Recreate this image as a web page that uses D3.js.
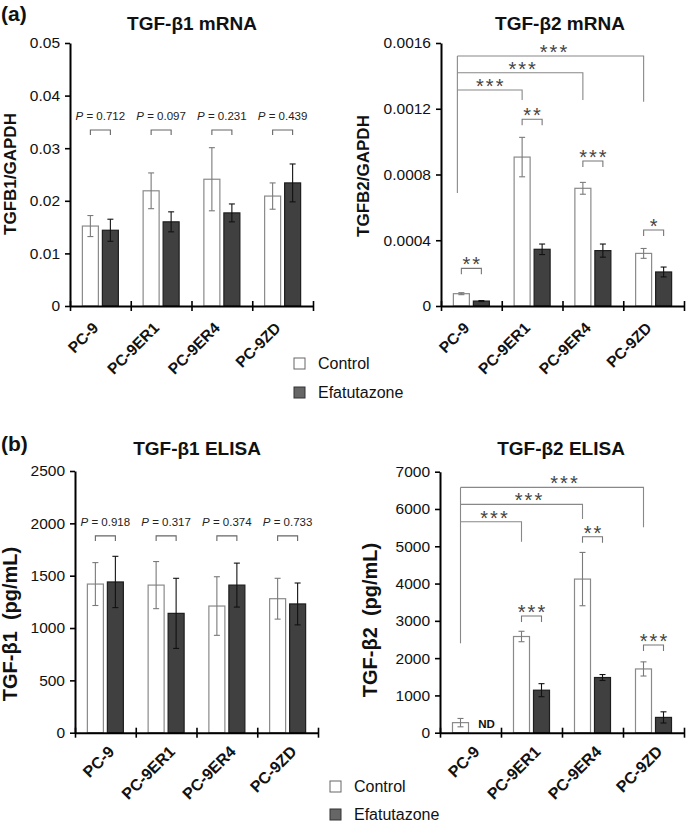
<!DOCTYPE html>
<html><head><meta charset="utf-8">
<script src="https://cdn.jsdelivr.net/npm/d3@7"></script>
<style>body{margin:0;background:#fff}svg{display:block;font-family:"Liberation Sans",Arial,sans-serif}</style>
</head><body><svg id="c" width="686" height="822"></svg>
<script>
const categories = ["PC-9", "PC-9ER1", "PC-9ER4", "PC-9ZD"];
const series = ["Control", "Efatutazone"];

// TGF-β1 mRNA (TGFB1/GAPDH)
const b1mrnaControl = [0.0152, 0.0219, 0.0241, 0.0209];
const b1mrnaControlErr = [0.0020, 0.0034, 0.0060, 0.0025];
const b1mrnaEfat = [0.0144, 0.0160, 0.0177, 0.0234];
const b1mrnaEfatErr = [0.0021, 0.0019, 0.0017, 0.0036];
const b1mrnaP = ["0.712", "0.097", "0.231", "0.439"];
const b1mrnaTicks = [0, 0.01, 0.02, 0.03, 0.04, 0.05];

// TGF-β2 mRNA (TGFB2/GAPDH)
const b2mrnaControl = [0.000075, 0.000906, 0.000716, 0.000320];
const b2mrnaControlErr = [0.000006, 0.000120, 0.000036, 0.000030];
const b2mrnaEfat = [0.000030, 0.000345, 0.000337, 0.000207];
const b2mrnaEfatErr = [0.000003, 0.000032, 0.000040, 0.000030];
const b2mrnaPairSig = ["**", "**", "***", "*"];
const b2mrnaVsPC9Sig = ["***", "***", "***"];
const b2mrnaTicks = [0, 0.0004, 0.0008, 0.0012, 0.0016];

// TGF-β1 ELISA (pg/mL)
const b1elisaControl = [1420, 1410, 1210, 1280];
const b1elisaControlErr = [205, 225, 280, 195];
const b1elisaEfat = [1440, 1140, 1410, 1230];
const b1elisaEfatErr = [245, 335, 210, 200];
const b1elisaP = ["0.918", "0.317", "0.374", "0.733"];
const b1elisaTicks = [0, 500, 1000, 1500, 2000, 2500];

// TGF-β2 ELISA (pg/mL); PC-9 Efatutazone not detected
const b2elisaControl = [270, 2580, 4120, 1710];
const b2elisaControlErr = [112, 140, 715, 190];
const b2elisaEfat = [null, 1140, 1480, 410];
const b2elisaEfatErr = [null, 175, 80, 150];
const b2elisaPairSig = [null, "***", "**", "***"];
const b2elisaVsPC9Sig = ["***", "***", "***"];
const b2elisaTicks = [0, 1000, 2000, 3000, 4000, 5000, 6000, 7000];

const svg = d3.select("#c");
const FONT = '"Liberation Sans", Arial, sans-serif';

function panel(cfg) {
  const g = svg.append("g");
  const x = d3.scaleBand().domain(categories).range([cfg.x0, cfg.x1]);
  const xs = d3.scaleBand().domain(series).range([-20, 20]).paddingInner(0.2).paddingOuter(0.1);
  const y = d3.scaleLinear().domain([0, cfg.ymax]).range([cfg.y0, cfg.yTop]);
  const cx = c => x(c) + x.bandwidth() / 2;
  const bx = (c, s) => cx(c) + xs(s) + xs.bandwidth() / 2;

  const rows = [];
  categories.forEach((c, i) => {
    rows.push({ c, s: series[0], v: cfg.ctrl[i], e: cfg.ctrlErr[i] });
    rows.push({ c, s: series[1], v: cfg.efat[i], e: cfg.efatErr[i] });
  });
  const valid = rows.filter(d => d.v != null);

  g.selectAll("rect.bar").data(valid).join("rect")
    .attr("x", d => cx(d.c) + xs(d.s))
    .attr("width", xs.bandwidth())
    .attr("y", d => y(d.v))
    .attr("height", d => y(0) - y(d.v))
    .attr("fill", d => d.s === series[0] ? "#ffffff" : "#404040")
    .attr("stroke", d => d.s === series[0] ? "#8a8a8a" : "#1e1e1e")
    .attr("stroke-width", 1.2);

  // error bars
  const eg = g.selectAll("g.err").data(valid).join("g")
    .attr("stroke", d => d.s === series[0] ? "#7a7a7a" : "#111")
    .attr("stroke-width", 1.1);
  eg.append("line")
    .attr("x1", d => bx(d.c, d.s)).attr("x2", d => bx(d.c, d.s))
    .attr("y1", d => y(d.v - d.e)).attr("y2", d => y(d.v + d.e));
  eg.append("line")
    .attr("x1", d => bx(d.c, d.s) - 3).attr("x2", d => bx(d.c, d.s) + 3)
    .attr("y1", d => y(d.v + d.e)).attr("y2", d => y(d.v + d.e));
  eg.append("line")
    .attr("x1", d => bx(d.c, d.s) - 3).attr("x2", d => bx(d.c, d.s) + 3)
    .attr("y1", d => y(d.v - d.e)).attr("y2", d => y(d.v - d.e));

  // y axis
  const ya = g.append("g").attr("transform", `translate(${cfg.x0},0)`)
    .call(d3.axisLeft(y).tickValues(cfg.ticks).tickFormat(cfg.fmt).tickSize(5).tickSizeOuter(0).tickPadding(5));
  ya.select(".domain").attr("stroke", "#000").attr("stroke-width", 2);
  ya.selectAll(".tick line").attr("stroke", "#000").attr("stroke-width", 1.6);
  ya.selectAll(".tick text").attr("font-size", 15.5).attr("font-family", FONT).attr("fill", "#111");

  // x axis with boundary ticks
  const xl = d3.scaleLinear().domain([0, categories.length]).range([cfg.x0, cfg.x1]);
  const xa = g.append("g").attr("transform", `translate(0,${cfg.y0})`)
    .call(d3.axisBottom(xl).tickValues(d3.range(categories.length + 1)).tickFormat("").tickSize(5).tickSizeOuter(0));
  xa.select(".domain").attr("stroke", "#000").attr("stroke-width", 2);
  xa.selectAll(".tick line").attr("y1", -5).attr("stroke", "#000").attr("stroke-width", 1.6);

  // category labels
  g.selectAll("text.cat").data(categories).join("text")
    .attr("transform", c => `translate(${cx(c) + cfg.lblDx},${cfg.y0 + cfg.lblDy}) rotate(-45)`)
    .attr("text-anchor", "end")
    .attr("font-weight", "bold").attr("font-size", cfg.lblSize).attr("fill", "#111")
    .text(c => c);

  // title
  g.append("text").attr("x", cfg.titleX).attr("y", cfg.titleY).attr("text-anchor", "middle")
    .attr("font-weight", "bold").attr("font-size", 19).attr("fill", "#111").text(cfg.title);

  // y label
  g.append("text").attr("transform", `translate(${cfg.ylX},${cfg.ylY}) rotate(-90)`)
    .attr("text-anchor", "middle").attr("font-weight", "bold").attr("font-size", cfg.ylSize || 18)
    .attr("fill", "#111").attr("xml:space", "preserve").style("white-space", "pre").text(cfg.ylabel);

  // P-value brackets
  if (cfg.pvals) {
    categories.forEach((c, i) => {
      const xa1 = bx(c, series[0]), xa2 = bx(c, series[1]), yy = y(cfg.pBracketY);
      g.append("path").attr("d", `M${xa1},${yy + 5}V${yy}H${xa2}V${yy + 5}`)
        .attr("fill", "none").attr("stroke", "#666").attr("stroke-width", 1.1);
      const t = g.append("text").attr("x", cx(c)).attr("y", yy - 10).attr("text-anchor", "middle")
        .attr("font-size", 11.5).attr("fill", "#222");
      t.append("tspan").attr("font-style", "italic").text("P");
      t.append("tspan").text(" = " + cfg.pvals[i]);
    });
  }

  const stars = (xc, yline, s) => g.append("text").attr("x", xc + 1).attr("y", yline + 3)
    .attr("text-anchor", "middle").attr("font-size", 20).attr("letter-spacing", 2)
    .attr("fill", "#444").text(s);

  // pairwise significance
  if (cfg.pairSig) {
    categories.forEach((c, i) => {
      if (!cfg.pairSig[i]) return;
      const xa1 = bx(c, series[0]), xa2 = bx(c, series[1]), yy = y(cfg.pairY[i]);
      g.append("path").attr("d", `M${xa1},${yy + 6}V${yy}H${xa2}V${yy + 6}`)
        .attr("fill", "none").attr("stroke", "#777").attr("stroke-width", 1.1);
      stars((xa1 + xa2) / 2, yy, cfg.pairSig[i]);
    });
  }
  // comparisons vs PC-9 control
  if (cfg.vsSig) {
    const xl0 = bx(categories[0], series[0]) + cfg.vsLeftDx;
    g.append("line").attr("x1", xl0).attr("x2", xl0)
      .attr("y1", y(cfg.vsY[cfg.vsY.length - 1])).attr("y2", y(cfg.vsLeftEnd))
      .attr("stroke", "#888").attr("stroke-width", 1.1);
    cfg.vsSig.forEach((s, k) => {
      const c = categories[k + 1];
      const xr = bx(c, series[0]), yy = y(cfg.vsY[k]);
      g.append("path").attr("d", `M${xl0},${yy}H${xr}V${y(cfg.vsEnd[k])}`)
        .attr("fill", "none").attr("stroke", "#888").attr("stroke-width", 1.1);
      stars((xl0 + xr) / 2 + cfg.vsStarDx[k], yy, s);
    });
  }

  if (cfg.nd) {
    g.append("text").attr("x", bx(categories[0], series[1]) + 6).attr("y", cfg.y0 - 5)
      .attr("text-anchor", "middle").attr("font-weight", "bold").attr("font-size", 11.5)
      .attr("fill", "#111").text("ND");
  }
}

const fmtPlain = d => d === 0 ? "0" : String(d);

panel({
  x0: 70, x1: 313, y0: 306, yTop: 43, ymax: 0.05, ticks: b1mrnaTicks, fmt: fmtPlain,
  ctrl: b1mrnaControl, ctrlErr: b1mrnaControlErr, efat: b1mrnaEfat, efatErr: b1mrnaEfatErr,
  title: "TGF-β1 mRNA", titleX: 192, titleY: 30, ylabel: "TGFB1/GAPDH", ylX: 16, ylY: 174, ylSize: 17,
  lblDx: -1, lblDy: 23, lblSize: 15.5, pvals: b1mrnaP, pBracketY: 0.03346
});
panel({
  x0: 441, x1: 684, y0: 306, yTop: 43, ymax: 0.0016, ticks: b2mrnaTicks, fmt: fmtPlain,
  ctrl: b2mrnaControl, ctrlErr: b2mrnaControlErr, efat: b2mrnaEfat, efatErr: b2mrnaEfatErr,
  title: "TGF-β2 mRNA", titleX: 560, titleY: 30, ylabel: "TGFB2/GAPDH", ylX: 369, ylY: 176, ylSize: 17,
  lblDx: -1, lblDy: 23, lblSize: 15.5,
  pairSig: b2mrnaPairSig, pairY: [0.000229, 0.001136, 0.000882, 0.000462],
  vsSig: b2mrnaVsPC9Sig, vsY: [0.001314, 0.001419, 0.001521], vsEnd: [0.001253, 0.001253, 0.001243],
  vsLeftEnd: 0.000687, vsLeftDx: -4, vsStarDx: [0, 2, 3]
});
panel({
  x0: 75, x1: 318, y0: 732.7, yTop: 471, ymax: 2500, ticks: b1elisaTicks, fmt: fmtPlain,
  ctrl: b1elisaControl, ctrlErr: b1elisaControlErr, efat: b1elisaEfat, efatErr: b1elisaEfatErr,
  title: "TGF-β1 ELISA", titleX: 197, titleY: 455, ylabel: "TGF-β1  (pg/mL)", ylX: 17, ylY: 624, ylSize: 20,
  lblDx: 10, lblDy: 20, lblSize: 16, pvals: b1elisaP, pBracketY: 1880
});
panel({
  x0: 440, x1: 684, y0: 732.7, yTop: 471.7, ymax: 7000, ticks: b2elisaTicks, fmt: fmtPlain,
  ctrl: b2elisaControl, ctrlErr: b2elisaControlErr, efat: b2elisaEfat, efatErr: b2elisaEfatErr,
  title: "TGF-β2 ELISA", titleX: 561, titleY: 455, ylabel: "TGF-β2  (pg/mL)", ylX: 377, ylY: 620, ylSize: 20,
  lblDx: 10, lblDy: 20, lblSize: 16,
  pairSig: b2elisaPairSig, pairY: [null, 3129, 5255, 2351],
  vsSig: b2elisaVsPC9Sig, vsY: [5657, 6123, 6579], vsEnd: [5121, 5729, 5507],
  vsLeftEnd: 2397, vsLeftDx: 0, vsStarDx: [3, 7, 12], nd: true
});

// panel letters
svg.append("text").attr("x", 1).attr("y", 21).attr("font-weight", "bold").attr("font-size", 21).attr("fill", "#111").text("(a)");
svg.append("text").attr("x", 1).attr("y", 451).attr("font-weight", "bold").attr("font-size", 21).attr("fill", "#111").text("(b)");

// legends
function legend(x, y, gap) {
  const lg = svg.append("g").attr("transform", `translate(${x},${y})`);
  series.forEach((s, i) => {
    lg.append("rect").attr("x", 0).attr("y", i * gap).attr("width", 11).attr("height", 11)
      .attr("fill", i === 0 ? "#fff" : "#666").attr("stroke", i === 0 ? "#666" : "#333").attr("stroke-width", 1);
    lg.append("text").attr("x", 24).attr("y", i * gap + 11).attr("font-size", 16).attr("fill", "#111").text(s);
  });
}
legend(294, 358, 29);
legend(330, 781, 28);
</script></body></html>
